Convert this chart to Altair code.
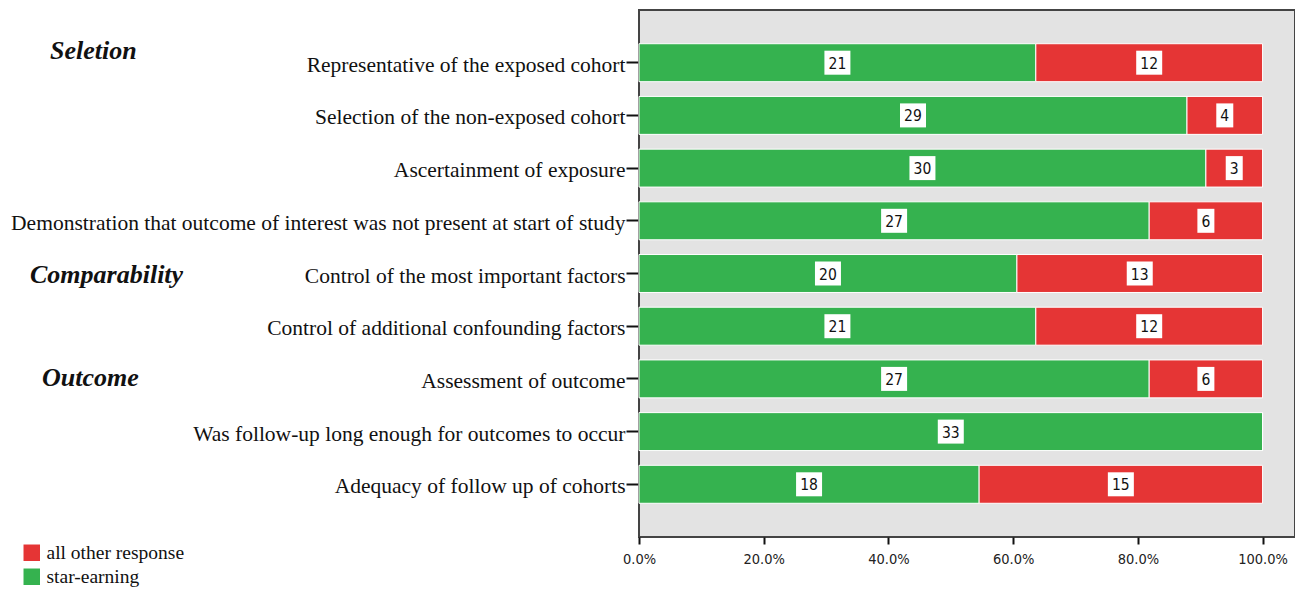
import altair as alt
import pandas as pd

items = [
    "Representative of the exposed cohort",
    "Selection of the non-exposed cohort",
    "Ascertainment of exposure",
    "Demonstration that outcome of interest was not present at start of study",
    "Control of the most important factors",
    "Control of additional confounding factors",
    "Assessment of outcome",
    "Was follow-up long enough for outcomes to occur",
    "Adequacy of follow up of cohorts",
]
star_earning = [21, 29, 30, 27, 20, 21, 27, 33, 18]
all_other = [12, 4, 3, 6, 13, 12, 6, 0, 15]
series = ["star-earning", "all other response"]
groups = ["Seletion", "Comparability", "Outcome"]

GREEN = "#35b24f"
RED = "#e53535"

rows = []
for it, s, o in zip(items, star_earning, all_other):
    rows.append({"item": it, "resp": series[0], "count": s, "ord": 0})
    rows.append({"item": it, "resp": series[1], "count": o, "ord": 1})
df = pd.DataFrame(rows)

W, H = 656, 527
xscale = alt.Scale(domain=[0, 1.052], nice=False, zero=True)
yscale = alt.Scale(domain=items, paddingInner=0.28, paddingOuter=0.64)

base = alt.Chart(df).transform_stack(
    stack="count", groupby=["item"], as_=["x0", "x1"],
    sort=[alt.SortField("ord", order="ascending")], offset="normalize"
).transform_calculate(mid="(datum.x0 + datum.x1) / 2")

bars = base.mark_bar(stroke="white", strokeWidth=1).encode(
    x=alt.X("x0:Q", scale=xscale,
            axis=alt.Axis(format=".1%", values=[0, 0.2, 0.4, 0.6, 0.8, 1.0],
                          title=None, grid=False, domain=False, labelFlush=False,
                          tickColor="#111", tickSize=7, tickWidth=2,
                          labelFont="DejaVu Sans Condensed", labelFontSize=14.5,
                          labelColor="#222", labelPadding=8)),
    x2="x1:Q",
    y=alt.Y("item:N", scale=yscale, sort=items,
            axis=alt.Axis(title=None, domain=False, tickColor="#111",
                          tickSize=13, tickWidth=2, labelFont="Liberation Serif",
                          labelFontSize=21.5, labelColor="#111", labelLimit=1000,
                          labelPadding=1, labelOffset=3)),
    color=alt.Color("resp:N",
                    scale=alt.Scale(domain=["all other response", "star-earning"],
                                    range=[RED, GREEN]),
                    legend=alt.Legend(title=None, orient="none", legendX=-617,
                                      legendY=533, padding=0, symbolType="square",
                                      symbolSize=272, symbolStrokeWidth=0,
                                      symbolOpacity=1, labelFont="Liberation Serif",
                                      labelFontSize=19.5, labelColor="#111",
                                      rowPadding=3, labelOffset=5)),
)

nz = base.transform_filter("datum.count > 0")

box2 = nz.transform_filter("datum.count >= 10").mark_bar(
    color="white", size=24, xOffset=-13, x2Offset=13
).encode(x=alt.X("mid:Q", scale=xscale), x2="mid:Q",
         y=alt.Y("item:N", scale=yscale, sort=items))

box1 = nz.transform_filter("datum.count < 10").mark_bar(
    color="white", size=24, xOffset=-8.5, x2Offset=8.5
).encode(x=alt.X("mid:Q", scale=xscale), x2="mid:Q",
         y=alt.Y("item:N", scale=yscale, sort=items))

labels = nz.mark_text(font="DejaVu Sans Condensed", fontSize=15.5, color="#111",
                      baseline="middle", align="center", dy=1).encode(
    x=alt.X("mid:Q", scale=xscale),
    y=alt.Y("item:N", scale=yscale, sort=items),
    text="count:Q",
)

gdf = pd.DataFrame({"g": groups, "gx": [-589, -609, -597], "gy": [41, 265, 368]})
group_text = alt.Chart(gdf).mark_text(
    font="Liberation Serif", fontSize=26, fontWeight="bold", fontStyle="italic",
    align="left", baseline="middle", color="#111"
).encode(x=alt.X("gx:Q", scale=None), y=alt.Y("gy:Q", scale=None), text="g:N")

chart = alt.layer(bars, box2, box1, labels, group_text).properties(
    width=W, height=H,
    autosize=alt.AutoSizeParams(type="none"),
    padding={"left": 631, "top": 2, "right": 0, "bottom": 51},
).configure_view(fill="#e3e3e3", stroke="#444", strokeWidth=2)

chart.save("out.html", embed_options={"renderer": "svg", "actions": False})
